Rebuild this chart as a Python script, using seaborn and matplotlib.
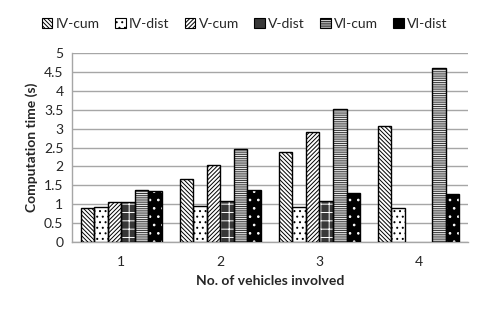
import matplotlib
matplotlib.use("Agg")
import matplotlib.pyplot as plt
import numpy as np
import pandas as pd
import seaborn as sns
from matplotlib.patches import Patch, Rectangle

# values
categories = ["1", "2", "3", "4"]
series = ["IV-cum", "IV-dist", "V-cum", "V-dist", "VI-cum", "VI-dist"]
iv_cum = [0.89, 1.68, 2.39, 3.08]
iv_dist = [0.93, 0.96, 0.92, 0.89]
v_cum = [1.05, 2.05, 2.92, np.nan]
v_dist = [1.05, 1.10, 1.08, np.nan]
vi_cum = [1.37, 2.45, 3.53, 4.60]
vi_dist = [1.34, 1.37, 1.31, 1.27]
y_ticks = [0, 0.5, 1, 1.5, 2, 2.5, 3, 3.5, 4, 4.5, 5]
y_tick_labels = ["0", "0.5", "1", "1.5", "2", "2.5", "3", "3.5", "4", "4.5", "5"]

# face, hatch colour, hatch pattern
styles = {
    "IV-cum": ("white", "black", "\\" * 8),
    "IV-dist": ("white", "black", "..."),
    "V-cum": ("white", "black", "/" * 8),
    "V-dist": ("#383838", "white", "++"),
    "VI-cum": ("white", "#333333", "-" * 9),
    "VI-dist": ("black", "white", ".."),
}

rows = []
for name, vals in zip(series, [iv_cum, iv_dist, v_cum, v_dist, vi_cum, vi_dist]):
    for cat, v in zip(categories, vals):
        if not np.isnan(v):
            rows.append({"cat": cat, "series": name, "time": v})
df = pd.DataFrame(rows)

sns.set_style("white")
plt.rcParams["font.family"] = ["Lato", "DejaVu Sans"]
plt.rcParams["hatch.linewidth"] = 0.7

fig = plt.figure(figsize=(4.85, 3.10), dpi=100)
ax = fig.add_axes([0.148, 0.219, 0.817, 0.610])

sns.barplot(data=df, x="cat", y="time", hue="series", order=categories,
            hue_order=series, width=0.82, ax=ax, legend=False, errorbar=None)

for name, cont in zip(series, ax.containers):
    face, hcol, hatch = styles[name]
    for p in cont.patches:
        p.set_facecolor(face)
        p.set_edgecolor(hcol)
        p.set_hatch(hatch)
        p.set_linewidth(0)
        p.set_zorder(3)
        ax.add_patch(Rectangle(p.get_xy(), p.get_width(), p.get_height(),
                               fill=False, ec="black", lw=1.0, zorder=4))

ax.set_ylim(0, 5)
ax.set_xlim(-0.5, 3.5)
ax.set_yticks(y_ticks)
ax.set_yticklabels(y_tick_labels)
ax.yaxis.grid(True, color="#a6a6a6", lw=1.0)
ax.set_axisbelow(True)
ax.set_xticks(np.arange(-0.5, 4.0, 1.0), minor=True)
ax.tick_params(axis="x", which="major", length=0, pad=10, labelsize=10)
ax.tick_params(axis="x", which="minor", length=4, color="#a6a6a6", direction="out")
ax.tick_params(axis="y", length=4, color="#a6a6a6", direction="out", labelsize=10, pad=2)
for s in ["top", "right"]:
    ax.spines[s].set_visible(False)
for s in ["left", "bottom"]:
    ax.spines[s].set_color("#a6a6a6")
    ax.spines[s].set_linewidth(1.0)

ax.set_xlabel("No. of vehicles involved", fontsize=10, fontweight="bold", labelpad=5)
ax.set_ylabel("Computation time (s)", fontsize=10, fontweight="bold", labelpad=4)

handles = []
for name in series:
    face, hcol, hatch = styles[name]
    if face == "white":
        handles.append(Patch(facecolor=face, edgecolor="black", hatch=hatch, lw=0.8))
    else:
        handles.append(Patch(facecolor=face, edgecolor="black", lw=0.8))
fig.legend(handles, series, loc="center", bbox_to_anchor=(0.505, 0.922), ncol=6,
           frameon=False, fontsize=10, handlelength=0.75, handleheight=0.75,
           handletextpad=0.25, columnspacing=1.1)

fig.savefig("out.png", dpi=100)
